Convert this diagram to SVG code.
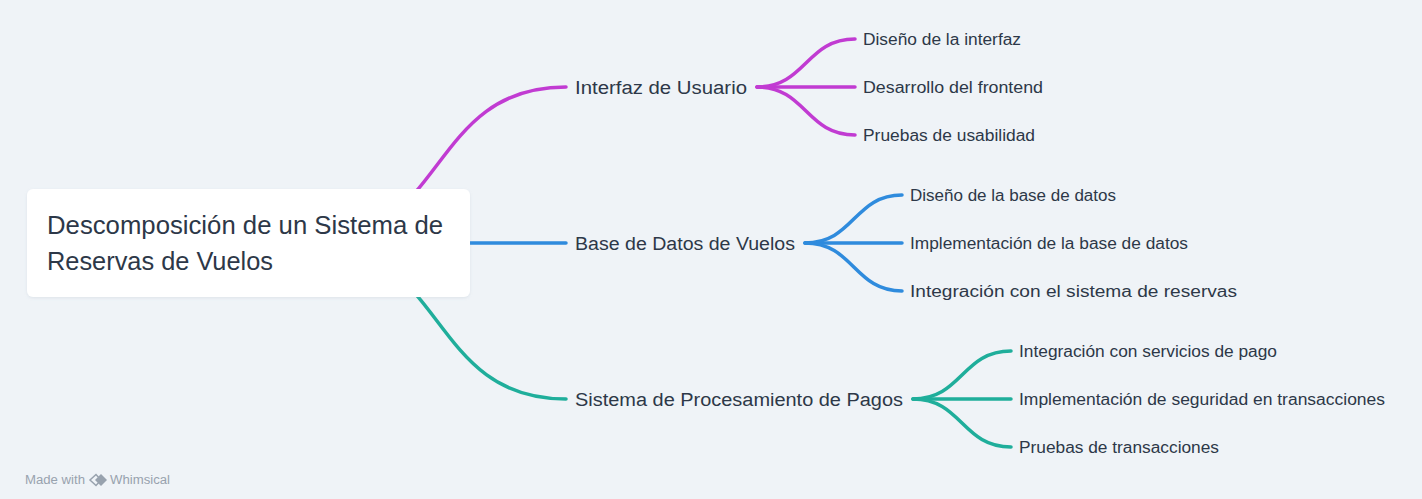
<svg xmlns="http://www.w3.org/2000/svg" width="1422" height="499" viewBox="0 0 1422 499">
<defs>
<style>
.bg{fill:#EFF3F7}
.t{font-family:"Liberation Sans","DejaVu Sans",Arial,sans-serif;fill:#2D3848}
.root{font-size:25px}
.l1{font-size:18px}
.l2{font-size:16px}
.c{fill:none;stroke-width:3.5;stroke-linecap:round}
.pink{stroke:#C13BD2}
.blue{stroke:#2F8BDD}
.teal{stroke:#1FAE9B}
.wm{font-family:"Liberation Sans","DejaVu Sans",Arial,sans-serif;font-size:12.5px;fill:#98A2AE}
</style>
<filter id="sh" x="-5%" y="-10%" width="110%" height="130%">
<feDropShadow dx="0" dy="1" stdDeviation="1.5" flood-color="#8A99AA" flood-opacity="0.18"/>
</filter>
</defs>
<rect class="bg" x="0" y="0" width="1422" height="499"/>
<g id="connectors">
<path class="c pink" d="M308 243 C448 243 426 87 566 87"/>
<path class="c blue" d="M440 243 L566 243"/>
<path class="c teal" d="M308 243 C448 243 426 399 566 399"/>
<path class="c pink" d="M757 87 L855 87"/>
<path class="c pink" d="M757 87 C806 87 806 39 855 39"/>
<path class="c pink" d="M757 87 C806 87 806 135 855 135"/>
<path class="c blue" d="M805 243 L902 243"/>
<path class="c blue" d="M805 243 C854 243 854 195 902 195"/>
<path class="c blue" d="M805 243 C854 243 854 291 902 291"/>
<path class="c teal" d="M913 399 L1011 399"/>
<path class="c teal" d="M913 399 C962 399 962 351 1011 351"/>
<path class="c teal" d="M913 399 C962 399 962 447 1011 447"/>
</g>
<g id="root">
<rect x="27" y="189" width="443" height="108" rx="6" fill="#FFFFFF" filter="url(#sh)"/>
<text class="t root" x="47" y="234" textLength="396" lengthAdjust="spacingAndGlyphs">Descomposición de un Sistema de</text>
<text class="t root" x="47" y="270" textLength="226" lengthAdjust="spacingAndGlyphs">Reservas de Vuelos</text>
</g>
<g id="n-interfaz">
<text class="t l1" x="575" y="94" textLength="172" lengthAdjust="spacingAndGlyphs">Interfaz de Usuario</text>
</g>
<g id="n-base">
<text class="t l1" x="575" y="250" textLength="220" lengthAdjust="spacingAndGlyphs">Base de Datos de Vuelos</text>
</g>
<g id="n-pagos">
<text class="t l1" x="575" y="406" textLength="328" lengthAdjust="spacingAndGlyphs">Sistema de Procesamiento de Pagos</text>
</g>
<g id="n-interfaz-1"><text class="t l2" x="863" y="44.5" textLength="158" lengthAdjust="spacingAndGlyphs">Diseño de la interfaz</text></g>
<g id="n-interfaz-2"><text class="t l2" x="863" y="92.5" textLength="180" lengthAdjust="spacingAndGlyphs">Desarrollo del frontend</text></g>
<g id="n-interfaz-3"><text class="t l2" x="863" y="140.5" textLength="172" lengthAdjust="spacingAndGlyphs">Pruebas de usabilidad</text></g>
<g id="n-base-1"><text class="t l2" x="910" y="200.5" textLength="206" lengthAdjust="spacingAndGlyphs">Diseño de la base de datos</text></g>
<g id="n-base-2"><text class="t l2" x="910" y="248.5" textLength="278" lengthAdjust="spacingAndGlyphs">Implementación de la base de datos</text></g>
<g id="n-base-3"><text class="t l2" x="910" y="296.5" textLength="327" lengthAdjust="spacingAndGlyphs">Integración con el sistema de reservas</text></g>
<g id="n-pagos-1"><text class="t l2" x="1019" y="356.5" textLength="258" lengthAdjust="spacingAndGlyphs">Integración con servicios de pago</text></g>
<g id="n-pagos-2"><text class="t l2" x="1019" y="404.5" textLength="366" lengthAdjust="spacingAndGlyphs">Implementación de seguridad en transacciones</text></g>
<g id="n-pagos-3"><text class="t l2" x="1019" y="452.5" textLength="200" lengthAdjust="spacingAndGlyphs">Pruebas de transacciones</text></g>
<g id="watermark">
<text class="wm" x="25" y="484" textLength="60" lengthAdjust="spacingAndGlyphs">Made with</text>
<path d="M96 474.5 L90 480 L96 485.5 L101 480 Z" fill="none" stroke="#98A2AE" stroke-width="1.5"/>
<path d="M101 474 L107 480 L101 486 L95 480 Z" fill="#98A2AE"/>
<text class="wm" x="110" y="484" textLength="60" lengthAdjust="spacingAndGlyphs">Whimsical</text>
</g>
</svg>
